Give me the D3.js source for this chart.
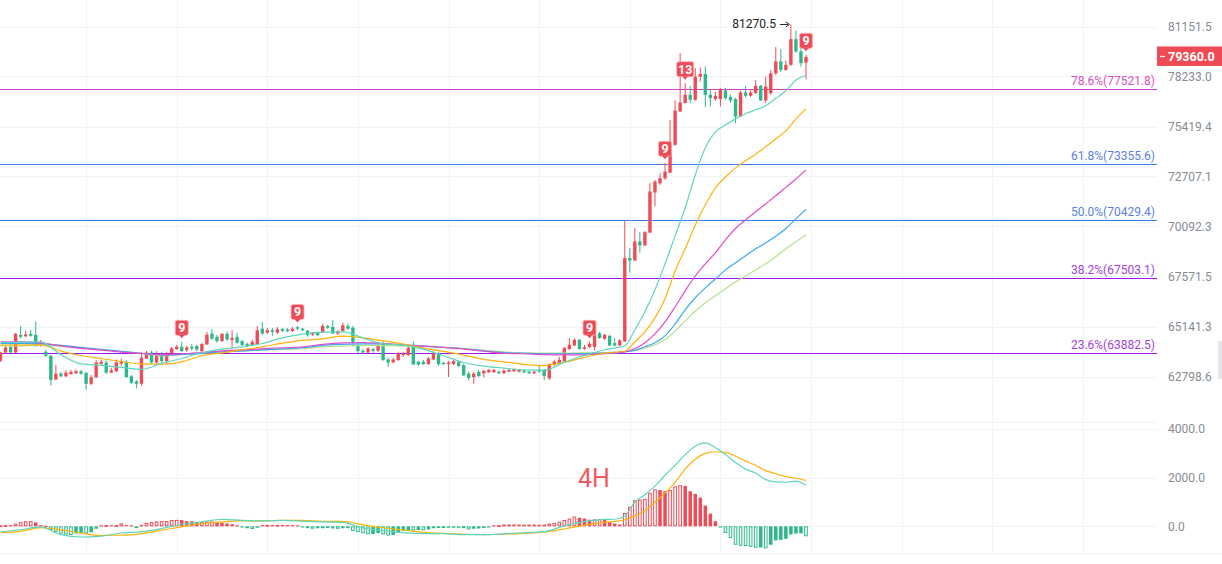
<!DOCTYPE html>
<html><head><meta charset="utf-8">
<script src="https://cdn.jsdelivr.net/npm/d3@7"></script>
<style>body{margin:0;background:#fff;overflow:hidden}svg{display:block;font-family:Roboto,"Noto Sans",Arial,sans-serif}</style>
</head><body><svg id="c" width="1222" height="564"></svg>
<script>
const openP=[63524,63913,64180,63913,64743,64673,64790,64743,64298,63946,63759,62658,62930,62808,62916,62948,63042,62962,62462,62761,63384,63445,62977,63042,63398,63478,62808,62574,62462,63632,63913,63445,63820,63510,63866,64073,64180,64026,64180,64213,63979,64288,64804,64649,64447,64790,64508,64649,64447,64321,64260,64307,65038,64851,64963,64851,65010,64995,64930,65104,65038,64930,64757,64837,64851,65166,65118,64804,64930,65166,65085,64260,63993,63913,64073,63993,64335,63585,63445,63557,63791,63791,64180,63478,63478,63370,63585,63866,63431,63370,63370,63478,63323,62930,62775,63009,62948,62995,62995,63023,62948,63023,63042,63023,63070,63023,62948,63103,63103,62714,63337,63416,63492,64073,64241,64508,64087,64166,64166,64823,64555,64696,64354,64241,64430,68489,68368,69326,69124,69780,71860,72351,72613,72913,74416,76252,76725,77192,76911,78222,78379,77192,76950,76950,77434,77063,76950,75971,77321,77136,77288,77698,76871,77288,78420,79097,78612,78904,80404,79681,79038];
const highP=[63946,64227,64321,64837,65166,64930,64977,65384,64508,64040,63806,63337,63009,63089,63103,63126,63103,63009,62869,63557,63585,63524,63197,63585,63632,63557,62869,62635,63946,63993,63993,63979,63946,63946,64180,64274,64415,64227,64321,64288,64368,64884,65010,64743,64837,64916,64963,64837,64508,64368,64508,65166,65360,65071,65071,65118,65071,65071,65118,65166,65071,64977,64884,64884,65277,65214,65442,64977,65326,65277,65166,64368,64087,64166,64134,64415,64447,63665,63665,63946,63946,64260,64447,63524,63571,63712,63979,63946,63478,63524,63571,63524,63384,63009,63009,63103,63103,63150,63150,63080,63126,63150,63173,63150,63103,63056,63056,63337,63150,63416,63571,63712,64180,64588,64580,64555,64274,64415,64790,64884,64790,64743,64588,64555,70395,68993,70001,69815,69865,72351,72524,72880,73439,75785,76871,79587,77850,77698,78712,78770,78805,77473,77361,77586,77586,77192,77023,77417,77698,77473,78036,77755,78222,78612,79937,79821,79138,81270.5,80906,79897,79488];
const lowP=[63478,63853,63899,63899,64570,64649,64649,64180,64180,63712,62387,62635,62775,62775,62869,62916,62869,62200,62401,62728,63337,62916,62962,63009,63290,62728,62448,62261,62354,63618,63384,63384,63431,63431,63853,64040,63946,63946,63993,63979,63866,64274,64508,64368,64415,64462,64101,64321,64227,64180,64227,64274,64743,64790,64696,64790,64884,64884,64884,64977,64930,64649,64696,64696,64837,65024,64790,64743,64884,64977,64180,63899,63853,63899,63899,63946,63524,63244,63431,63524,63712,63759,63337,63290,63337,63337,63571,63290,63337,62775,63337,63244,62822,62621,62462,62775,62761,62962,62962,62916,62916,62986,63009,62986,62962,62916,62916,62986,62635,62635,63290,63384,63478,64040,64227,64040,64040,64134,64007,64555,64508,64227,64204,64227,64415,67763,68353,68756,69109,69765,71128,72262,72524,72897,74361,76235,76714,76742,76854,77940,76500,76534,76854,76534,76911,76742,75600,75954,77023,77080,77248,76854,76725,77192,78320,78496,78554,78846,79605,78805,78069];
const closeP=[63913,64147,63913,64790,64649,64766,64696,64274,64368,63759,62635,62930,62808,62977,63009,63042,62930,62462,62761,63445,63478,62977,63089,63445,63510,62775,62509,62462,63665,63913,63445,63759,63510,63866,64101,64180,63979,64147,64101,64054,64307,64757,64570,64447,64790,64522,64602,64368,64260,64213,64415,64963,64804,64963,64884,65010,64930,64920,65038,65038,64963,64729,64851,64729,65166,65085,64804,64916,65200,65038,64415,63979,63913,64101,63993,64260,63557,63445,63585,63866,63866,64134,63351,63351,63370,63632,63866,63370,63370,63445,63510,63276,62855,62728,62930,62822,63056,63103,63103,62948,63070,63103,63136,63103,62995,62948,63023,63023,62822,63370,63492,63571,64119,64274,64508,64073,64166,64321,64743,64588,64743,64241,64241,64475,68489,68368,69326,69124,69800,71912,72435,72613,72967,74416,76309,76759,77192,76911,78222,78379,77192,77006,77136,77473,77006,76871,75971,77321,77136,77321,77698,76871,77659,78420,79097,78612,78904,80404,79681,79003,79360];

const maIdx=[0,4,8,12,16,20,24,28,32,36,40,44,48,52,56,60,64,68,72,76,80,84,88,92,96,100,104,108,112,116,120,122,124,126,128,130,132,134,136,138,140,142,144,146,148,150,152,154,156,158,160];
const maTeal=[64382,64392,64415,63806,63384,63314,63220,63126,63408,63632,63899,64073,64180,64335,64602,64776,64870,64884,64602,64321,64260,64073,63759,63445,63276,63183,63103,63089,63464,63773,64040,64120,64227,64977,65846,66915,68202,69613,71060,72788,74253,75121,75504,75842,76123,76348,76573,76995,77417,78036,78291];
const maOrange=[64260,64260,64274,63979,63773,63632,63492,63384,63370,63478,63759,63899,64040,64180,64354,64485,64555,64682,64602,64462,64307,64120,63961,63792,63595,63478,63361,63305,63455,63689,63876,63923,63970,64415,64884,65555,66478,67849,68958,70171,71217,72106,72681,73168,73548,73900,74307,74741,75175,75842,76404];
const maMagenta=[64415,64415,64368,64227,64110,64026,63932,63866,63806,63853,63913,63993,64040,64087,64134,64180,64298,64368,64382,64335,64274,64213,64148,64073,63970,63876,63853,63815,63806,63806,63862,63899,63946,64087,64368,64790,65360,66089,66867,67597,68202,68756,69412,69991,70432,70851,71269,71687,72132,72576,73060];
const maBlue=[64335,64345,64321,64251,64157,64064,63970,63876,63792,63829,63876,63946,63993,64040,64087,64134,64251,64298,64321,64321,64260,64227,64157,64087,63993,63909,63876,63853,63853,63862,63885,63899,63946,64017,64180,64368,64696,65263,65943,66527,67013,67450,67899,68252,68605,68958,69260,69588,69991,70484,70981];
const maLime=[64213,64227,64251,64204,64134,64040,63970,63876,63759,63806,63876,63923,63979,64026,64054,64087,64180,64213,64251,64237,64227,64190,64157,64110,64026,63946,63899,63885,63885,63899,63913,63932,63946,63993,64110,64274,64508,64930,65409,65870,66284,66624,66964,67304,67597,67899,68202,68555,68958,69311,69664];

const difV=[-233,-137,-27,-345,-440,-405,-276,-226,-90,75,183,286,240,222,247,212,178,160,-70,-175,-262,-301,-301,-343,-343,-310,-265,-220,20,190,285,290,420,1000,1300,1650,2100,2510,2945,3290,3430,3230,2955,2620,2350,2190,1920,1827,1810,1860,1690];
const deaV=[-260,-205,-55,-150,-280,-370,-365,-300,-160,-20,115,180,219,225,247,247,205,200,60,-60,-150,-250,-290,-320,-340,-320,-290,-240,-110,50,165,200,270,430,640,990,1370,1810,2350,2760,3000,3065,3040,2880,2680,2510,2290,2160,2040,1975,1890];
const histV=[40,50,50,110,170,210,215,160,50,20,-150,-230,-300,-340,-360,-300,-280,-290,-250,-100,40,50,45,50,120,50,40,-60,60,140,170,200,215,220,260,265,255,210,205,170,180,190,195,150,145,120,90,40,-40,-80,-110,-60,50,55,55,60,60,55,50,40,-30,-70,-100,-80,-80,-70,-90,-100,-80,-75,-190,-240,-290,-330,-320,-280,-330,-380,-360,-250,-190,-160,-170,-150,-160,-130,-80,-70,-70,-60,-60,-60,-70,-130,-100,-90,-70,-40,40,45,70,75,75,70,70,70,70,65,70,110,140,190,260,315,400,350,320,270,285,290,270,170,110,70,550,800,1070,1100,1130,1380,1520,1490,1440,1490,1640,1690,1660,1440,1330,1180,850,520,210,-30,-270,-480,-760,-800,-810,-840,-880,-870,-905,-760,-580,-560,-515,-340,-300,-290,-410];

const priceTicks=[81151.5,78233.0,75419.4,72707.1,70092.3,67571.5,65141.3,62798.6];
const macdTicks=[4000,2000,0];
const fibNames=["78.6%","61.8%","50.0%","38.2%","23.6%"];
const fibPrices=[77521.8,73355.6,70429.4,67503.1,63882.5];
const markIdx=[36,59,117,132,136,160];
const markText=["9","9","9","9","13","9"];
const lastPrice=79360.0;
const peakIdx=157, peakPrice=81270.5;
const gridIdx=[17,35,53,71,89,107,125,143,161,179,197,215];
const periodLabel="4H";

const UP="#ef4b56", DN="#2db88b";
const svg=d3.select("#c");
const W=1222, PLOT_R=1157;
const x=d3.scaleLinear().domain([0,160]).range([0.5,806]);
const y=d3.scaleLog().domain([62798.6,81151.5]).range([376.5,26.5]);
const ym=d3.scaleLinear().domain([0,4000]).range([526.3,429]);
const snap=v=>Math.round(v)+0.5;

// grid
const g0=svg.append("g");
g0.selectAll(".vg").data(gridIdx).join("line").attr("x1",d=>snap(x(d))).attr("x2",d=>snap(x(d))).attr("y1",0).attr("y2",553).attr("stroke","#f1f2f4").attr("stroke-width",1);
g0.selectAll(".hg").data(priceTicks).join("line").attr("x1",0).attr("x2",PLOT_R).attr("y1",d=>snap(y(d))).attr("y2",d=>snap(y(d))).attr("stroke","#f1f2f4");
g0.selectAll(".mg").data(macdTicks).join("line").attr("x1",0).attr("x2",PLOT_R).attr("y1",d=>snap(ym(d))).attr("y2",d=>snap(ym(d))).attr("stroke","#f1f2f4");
g0.append("line").attr("x1",0).attr("x2",PLOT_R).attr("y1",422.5).attr("y2",422.5).attr("stroke","#f1f2f4");
g0.append("line").attr("x1",0).attr("x2",W).attr("y1",553.5).attr("y2",553.5).attr("stroke","#f1f2f4");

// fib lines
const fibLine=["#cf3fc6","#3f82ea","#3a80e8","#a016f0","#a016f0"];
const fibText=["#d94fc4","#5a80e0","#5a80e0","#a43fe0","#a43fe0"];
const gf=svg.append("g");
fibPrices.forEach((p,k)=>{
  const yy=snap(y(p));
  gf.append("line").attr("x1",0).attr("x2",PLOT_R).attr("y1",yy).attr("y2",yy).attr("stroke",fibLine[k]).attr("stroke-width",1);
  gf.append("text").attr("x",1155).attr("y",yy-5).attr("text-anchor","end").attr("font-size",12).attr("fill",fibText[k]).text(fibNames[k]+"("+p.toFixed(1)+")");
});

// candles
const idx=d3.range(openP.length);
const gc=svg.append("g");
gc.selectAll(".w").data(idx).join("line")
  .attr("x1",i=>x(i)).attr("x2",i=>x(i)).attr("y1",i=>y(highP[i])).attr("y2",i=>y(lowP[i]))
  .attr("stroke",i=>closeP[i]>=openP[i]?UP:DN).attr("stroke-width",1);
gc.selectAll(".b").data(idx).join("rect")
  .attr("x",i=>x(i)-1.7).attr("width",3.4)
  .attr("y",i=>y(Math.max(openP[i],closeP[i])))
  .attr("height",i=>Math.max(1,y(Math.min(openP[i],closeP[i]))-y(Math.max(openP[i],closeP[i]))))
  .attr("fill",i=>closeP[i]>=openP[i]?UP:DN);

// MA lines
const maSets=[[maLime,"#b8e08c"],[maBlue,"#3aa8f2"],[maMagenta,"#e24ccb"],[maOrange,"#ffb20a"],[maTeal,"#5dd6bc"]];
const lineP=d3.line().x((d,k)=>x(maIdx[k])).y(d=>y(d)).curve(d3.curveMonotoneX);
maSets.forEach(([arr,col])=>{
  svg.append("path").attr("d",lineP(arr)).attr("fill","none").attr("stroke",col).attr("stroke-width",1.2);
});

// markers
const gm=svg.append("g");
markIdx.forEach((i,k)=>{
  const cx=x(i), cy=y(highP[i])-14, w=markText[k].length>1?17:13, h=15;
  gm.append("rect").attr("x",cx-w/2).attr("y",cy-h/2).attr("width",w).attr("height",h).attr("rx",2).attr("fill",UP).attr("stroke","#f7b3b8").attr("stroke-width",0.8);
  gm.append("path").attr("d",`M${cx-3},${cy+h/2-0.5}L${cx+3},${cy+h/2-0.5}L${cx},${cy+h/2+3}Z`).attr("fill",UP);
  gm.append("text").attr("x",cx).attr("y",cy+4.5).attr("text-anchor","middle").attr("font-size",12.5).attr("font-weight","bold").attr("fill","#fff").text(markText[k]);
});

// peak annotation
const px=x(peakIdx), py=y(peakPrice);
svg.append("text").attr("x",px-15).attr("y",py+4).attr("text-anchor","end").attr("font-size",12).attr("fill","#222").text(peakPrice.toFixed(1));
svg.append("line").attr("x1",px-11).attr("x2",px-3).attr("y1",py).attr("y2",py).attr("stroke","#222").attr("stroke-width",1);
svg.append("path").attr("d",`M${px-5},${py-2.5}L${px-1.5},${py}L${px-5},${py+2.5}`).attr("fill","none").attr("stroke","#222").attr("stroke-width",1);

// MACD histogram
const gh=svg.append("g");
idx.forEach(i=>{
  const v=histV[i], prev=i>0?histV[i-1]:0, col=v>=0?UP:DN;
  const hollow=Math.abs(v)>Math.abs(prev);
  const y1=ym(Math.max(v,0)), y2=ym(Math.min(v,0));
  const hh=Math.max(1.2,y2-y1);
  if(hollow){
    gh.append("rect").attr("x",x(i)-1.3).attr("y",y1+0.5).attr("width",2.6).attr("height",Math.max(0.8,hh-1)).attr("fill","#fff").attr("stroke",col).attr("stroke-width",1);
  }else{
    gh.append("rect").attr("x",x(i)-1.75).attr("y",y1).attr("width",3.5).attr("height",hh).attr("fill",col);
  }
});
const lineM=d3.line().x((d,k)=>x(maIdx[k])).y(d=>ym(d)).curve(d3.curveMonotoneX);
svg.append("path").attr("d",lineM(deaV)).attr("fill","none").attr("stroke","#ffb20a").attr("stroke-width",1.2);
svg.append("path").attr("d",lineM(difV)).attr("fill","none").attr("stroke","#5dd6bc").attr("stroke-width",1.2);

svg.append("text").attr("x",594).attr("y",487).attr("text-anchor","middle").attr("font-size",25).attr("fill","#f25a5f").text(periodLabel);

// axes
const axP=d3.axisRight(y).tickValues(priceTicks).tickFormat(d=>d.toFixed(1)).tickSize(0).tickPadding(0);
const ga=svg.append("g").attr("transform","translate(1168,0)").call(axP);
const axM=d3.axisRight(ym).tickValues(macdTicks).tickFormat(d=>d.toFixed(1)).tickSize(0).tickPadding(0);
const gb=svg.append("g").attr("transform","translate(1168,0)").call(axM);
[ga,gb].forEach(g=>{g.select(".domain").remove();g.selectAll("text").attr("font-size",12).attr("fill","#858b94").attr("font-family","Roboto, 'Noto Sans', Arial, sans-serif");});

// current price tag
const ly=y(lastPrice);
svg.append("rect").attr("x",1157).attr("y",ly-10.5).attr("width",65).attr("height",19.5).attr("fill","#ef4b56");
svg.append("line").attr("x1",1160).attr("x2",1165).attr("y1",ly-0.5).attr("y2",ly-0.5).attr("stroke","#fff").attr("stroke-width",1.2);
svg.append("text").attr("x",1168).attr("y",ly+3.8).attr("font-size",12.5).attr("font-weight","bold").attr("fill","#fff").text(lastPrice.toFixed(1));

// small scroll handle at right edge
svg.append("rect").attr("x",1218).attr("y",341).attr("width",4).attr("height",38).attr("fill","#e4e6ea");
</script></body></html>
